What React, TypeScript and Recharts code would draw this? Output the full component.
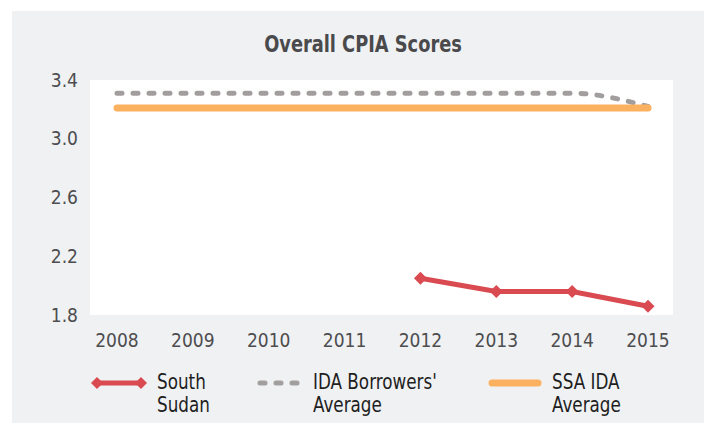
import React from "react"
import { LineChart, Line, XAxis, YAxis, CartesianGrid } from "recharts"

const years = ["2008", "2009", "2010", "2011", "2012", "2013", "2014", "2015"]
const southSudan = [null, null, null, null, 2.05, 1.96, 1.96, 1.86]
const idaBorrowers = [3.31, 3.31, 3.31, 3.31, 3.31, 3.31, 3.31, 3.22]
const ssaIda = [3.21, 3.21, 3.21, 3.21, 3.21, 3.21, 3.21, 3.21]
const yTicks = [1.8, 2.2, 2.6, 3.0, 3.4]

const FONT = "'DejaVu Sans Condensed', 'Liberation Sans', sans-serif"
const RED = "#d94a51"
const GREY = "#a29e9d"
const ORANGE = "#fbb160"

const data = years.map((year, i) => ({
  year,
  southSudan: southSudan[i],
  idaBorrowers: idaBorrowers[i],
  ssaIda: ssaIda[i],
}))

// diamond marker for the South Sudan series
const Diamond = (props: any) => {
  const { cx, cy } = props
  if (cx == null || cy == null || props.value == null) return null
  const r = 6.5
  return (
    <path
      d={`M${cx},${cy - r} L${cx + r},${cy} L${cx},${cy + r} L${cx - r},${cy} Z`}
      fill={RED}
    />
  )
}

const legendItems = [
  { key: "south", lines: ["South", "Sudan"], left: 78, textLeft: 145 },
  { key: "ida", lines: ["IDA Borrowers'", "Average"], left: 244, textLeft: 301 },
  { key: "ssa", lines: ["SSA IDA", "Average"], left: 476, textLeft: 540 },
]

function LegendIcon({ kind }: { kind: string }) {
  if (kind === "south") {
    return (
      <svg width={58} height={16}>
        <line x1={6} y1={8} x2={52} y2={8} stroke={RED} strokeWidth={5} />
        <path d="M1,8 L7,2 L13,8 L7,14 Z" fill={RED} />
        <path d="M45,8 L51,2 L57,8 L51,14 Z" fill={RED} />
      </svg>
    )
  }
  if (kind === "ida") {
    return (
      <svg width={44} height={16}>
        <line x1={4} y1={8} x2={42} y2={8} stroke={GREY} strokeWidth={5} strokeLinecap="round" strokeDasharray="5 11" />
      </svg>
    )
  }
  return (
    <svg width={54} height={16}>
      <line x1={4} y1={8} x2={50} y2={8} stroke={ORANGE} strokeWidth={7} strokeLinecap="round" />
    </svg>
  )
}

export default function App() {
  return (
    <div
      style={{
        position: "absolute",
        left: 12,
        top: 11,
        width: 692,
        height: 412,
        background: "#f0f1f3",
        fontFamily: FONT,
        overflow: "hidden",
      }}
    >
      <div
        style={{
          position: "absolute",
          left: 0,
          width: 702,
          top: 20,
          textAlign: "center",
          fontSize: 23,
          fontWeight: "bold",
          color: "#4a4a4c",
          transform: "scaleX(0.86)",
          transformOrigin: "351px 0",
        }}
      >
        Overall CPIA Scores
      </div>
      <LineChart
        width={692}
        height={412}
        data={data}
        margin={{ top: 69, right: 31, bottom: 78, left: 18 }}
      >
        <CartesianGrid horizontal={false} vertical={false} fill="#ffffff" />
        <XAxis
          dataKey="year"
          axisLine={false}
          tickLine={false}
          tickSize={0}
          tickMargin={19}
          padding={{ left: 27, right: 25 }}
          tick={{ fill: "#4d4d4f", fontSize: 19, fontFamily: FONT }}
          interval={0}
        />
        <YAxis
          width={60}
          domain={[1.8, 3.4]}
          ticks={yTicks}
          tickFormatter={(v: number) => v.toFixed(1)}
          axisLine={false}
          tickLine={false}
          tickSize={0}
          tickMargin={12}
          tick={{ fill: "#4d4d4f", fontSize: 19, fontFamily: FONT }}
          interval={0}
        />
        <Line
          dataKey="southSudan"
          stroke={RED}
          strokeWidth={5}
          dot={<Diamond />}
          activeDot={false}
          isAnimationActive={false}
          connectNulls={false}
        />
        <Line
          type="monotone"
          dataKey="idaBorrowers"
          stroke={GREY}
          strokeWidth={5}
          strokeLinecap="round"
          strokeDasharray="5 11"
          dot={false}
          activeDot={false}
          isAnimationActive={false}
        />
        <Line
          dataKey="ssaIda"
          stroke={ORANGE}
          strokeWidth={7}
          strokeLinecap="round"
          dot={false}
          activeDot={false}
          isAnimationActive={false}
        />
      </LineChart>
      {legendItems.map((item) => (
        <React.Fragment key={item.key}>
          <div style={{ position: "absolute", left: item.left, top: 364, lineHeight: 0 }}>
            <LegendIcon kind={item.key} />
          </div>
          <div
            style={{
              position: "absolute",
              left: item.textLeft,
              top: 360,
              fontSize: 20.5,
              lineHeight: "23px",
              color: "#1e1e1e",
              whiteSpace: "nowrap",
              transform: "scaleX(0.91)",
              transformOrigin: "0 0",
            }}
          >
            {item.lines[0]}
            <br />
            {item.lines[1]}
          </div>
        </React.Fragment>
      ))}
    </div>
  )
}
